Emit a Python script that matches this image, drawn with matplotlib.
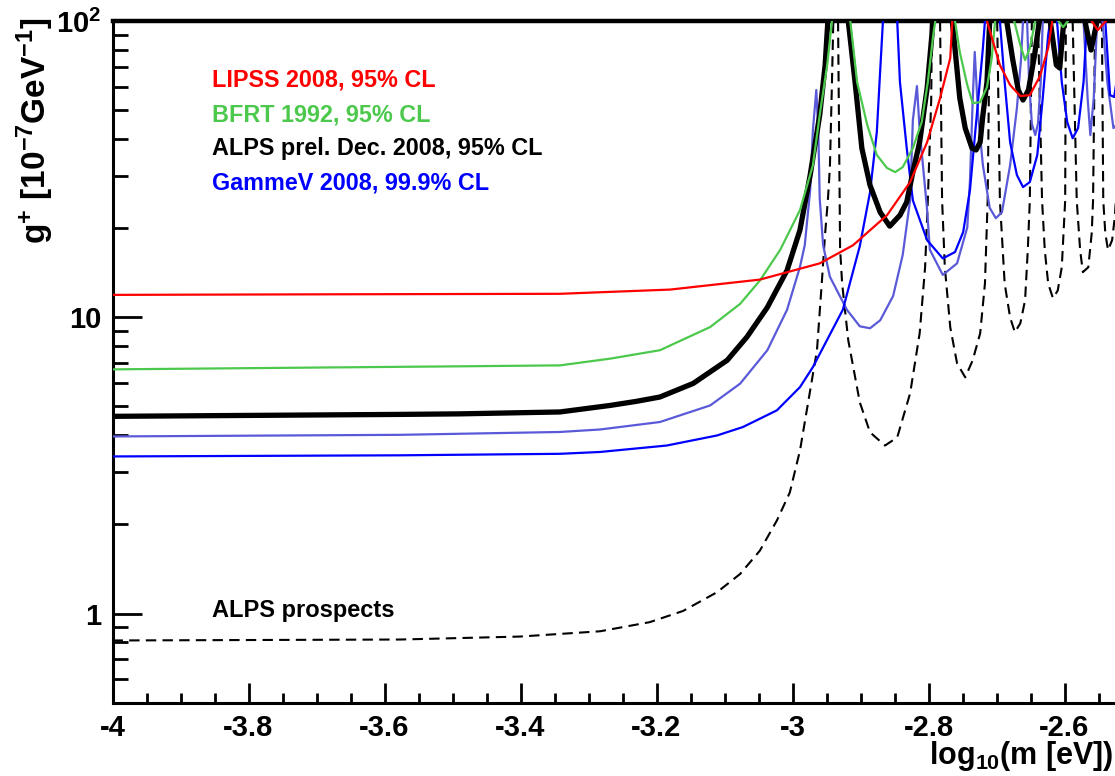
import numpy as np
import matplotlib
matplotlib.use("Agg")
import matplotlib.pyplot as plt
from matplotlib.ticker import FixedLocator, FixedFormatter, NullFormatter, MultipleLocator

plt.rcParams['font.family'] = ['Liberation Sans', 'DejaVu Sans']
plt.rcParams['mathtext.fontset'] = 'custom'
plt.rcParams['mathtext.rm'] = 'Liberation Sans:bold'
plt.rcParams['mathtext.bf'] = 'Liberation Sans:bold'
plt.rcParams['mathtext.it'] = 'Liberation Sans:bold'

nan = np.nan

# ---- exclusion limits: log10(m/eV) vs g [1e-7 GeV^-1]; nan separates lobes above the frame
lipss_logm = [-4.0, -3.7, -3.342, -3.180, -3.048, -2.960, -2.911, -2.861, -2.827, -2.802,
              -2.783, -2.768, -2.765, nan,
              -2.714, -2.695, -2.680, -2.665, -2.651, -2.636, -2.624, -2.618, nan,
              -2.560, -2.551, -2.539]
lipss_g = [11.9, 11.95, 12.0, 12.4, 13.4, 15.2, 17.5, 22.1, 28.6, 39.0,
           54.9, 75.0, 100, nan,
           100, 71.0, 60.8, 55.8, 56.2, 65.2, 81.0, 100, nan,
           100, 93.2, 100]

bfrt_logm = [-4.0, -3.651, -3.489, -3.342, -3.268, -3.195, -3.121, -3.077, -3.048, -3.018, -2.989,
             -2.970, -2.960, -2.949, -2.942, nan,
             -2.915, -2.905, -2.890, -2.876, -2.861, -2.849, -2.838, -2.823, -2.810, -2.801,
             -2.793, -2.790, nan,
             -2.761, -2.754, -2.743, -2.735, -2.724, -2.714, -2.707, -2.702, nan,
             -2.674, -2.665, -2.658, -2.651, -2.643, nan,
             -2.609, -2.602, -2.595]
bfrt_g = [6.67, 6.78, 6.83, 6.88, 7.25, 7.74, 9.27, 11.1, 13.3, 16.9, 23.0,
          32.6, 48.1, 71.0, 100, nan,
          100, 62.2, 44.5, 35.3, 31.9, 30.9, 32.1, 37.2, 45.6, 62.2,
          89.7, 100, nan,
          100, 78.6, 60.8, 52.8, 53.2, 59.8, 75.0, 100, nan,
          100, 83.0, 73.8, 81.0, 100, nan,
          100, 95.4, 100]

alps_logm = [-4.0, -3.577, -3.489, -3.342, -3.268, -3.230, -3.195, -3.146, -3.096, -3.067, -3.037,
             -3.008, -2.989, -2.974, -2.960, -2.952, -2.948, nan,
             -2.918, -2.908, -2.898, -2.886, -2.871, -2.857, -2.842, -2.832, -2.823, -2.813,
             -2.802, -2.795, -2.794, nan,
             -2.765, -2.754, -2.746, -2.736, -2.730, -2.724, -2.720, -2.714, -2.710, nan,
             -2.685, -2.676, -2.668, -2.661, -2.653, -2.644, -2.637, nan,
             -2.621, -2.612, -2.607, -2.601, nan,
             -2.570, -2.561, -2.552]
alps_g = [4.63, 4.70, 4.72, 4.79, 5.04, 5.20, 5.38, 5.98, 7.16, 8.58, 10.8,
          14.4, 19.7, 30.2, 48.1, 71.0, 100, nan,
          100, 62.2, 37.2, 27.9, 22.6, 20.3, 22.1, 24.5, 30.9, 39.0,
          59.4, 89.7, 100, nan,
          100, 54.9, 43.5, 37.2, 36.7, 39.0, 48.1, 62.2, 100, nan,
          100, 73.8, 58.5, 54.1, 58.5, 76.8, 100, nan,
          100, 71.0, 69.4, 100, nan,
          100, 79.8, 100]

gammev_logm = [-4.0, -3.577, -3.342, -3.283, -3.185, -3.111, -3.073, -3.023, -2.989, -2.970,
               -2.926, -2.901, -2.886, -2.876, -2.871, -2.867, nan,
               -2.846, -2.842, -2.832, -2.823, -2.802, -2.779, -2.761, -2.749, -2.739, -2.729,
               -2.720, -2.717, nan,
               -2.695, -2.688, -2.680, -2.670, -2.661, -2.651, -2.640, -2.632, -2.624, -2.621, nan,
               -2.611, -2.604, -2.596, -2.588, -2.580, -2.572, -2.567, nan,
               -2.540, -2.533, -2.527, -2.518, -2.511]
gammev_g = [3.39, 3.42, 3.46, 3.51, 3.69, 3.99, 4.26, 4.85, 5.81, 6.79,
            10.6, 17.4, 26.4, 42.2, 68.3, 100, nan,
            100, 62.2, 37.2, 24.8, 18.2, 15.8, 16.6, 19.4, 26.9, 48.1,
            81.0, 100, nan,
            100, 62.2, 39.0, 30.2, 27.5, 28.6, 35.3, 54.9, 89.7, 100, nan,
            100, 62.2, 45.6, 40.2, 43.5, 62.2, 100, nan,
            100, 56.2, 55.4, 75.0, 100]

gammev2_logm = [-4.0, -3.577, -3.342, -3.283, -3.195, -3.121, -3.077, -3.037, -3.008, -2.989,
                -2.982, -2.974, -2.970, -2.965, -2.962, -2.960, -2.955, -2.945, -2.920, -2.901,
                -2.886, -2.871, -2.852, -2.838, -2.827, -2.823, -2.817, -2.813, -2.802, -2.798,
                -2.779, -2.758, -2.743, -2.739, -2.735, -2.732, -2.727, -2.720, -2.710, -2.701,
                -2.692, -2.680, -2.670, -2.664, -2.661, nan,
                -2.655, -2.652, -2.648, -2.643, -2.639, -2.635, -2.632, nan,
                -2.572, -2.566, -2.562, -2.557, -2.552, nan,
                -2.544, -2.537, -2.528, -2.518, -2.509]
gammev2_g = [3.96, 4.01, 4.10, 4.18, 4.43, 5.04, 5.97, 7.74, 10.6, 14.8,
             17.5, 26.9, 42.8, 58.5, 42.2, 25.2, 17.5, 13.7, 10.6, 9.32,
             9.18, 9.77, 11.8, 16.2, 24.9, 46.3, 60.3, 42.8, 23.0, 16.9,
             13.9, 15.2, 20.1, 29.0, 54.1, 78.6, 48.1, 32.6, 23.4, 21.6,
             22.6, 32.6, 50.8, 73.8, 100, nan,
             100, 62.2, 45.0, 41.2, 45.0, 62.2, 100, nan,
             100, 54.9, 41.2, 54.9, 100, nan,
             100, 62.2, 43.5, 46.0, 68.0]

prosp_logm = [-4.0, -3.577, -3.401, -3.283, -3.210, -3.161, -3.111, -3.077, -3.048, -3.023,
              -3.004, -2.989, -2.979, -2.964, -2.957, -2.952, -2.948, -2.945, -2.942, -2.940, nan,
              -2.933, -2.930, -2.927, -2.918, -2.901, -2.886, -2.864, -2.846, -2.827, -2.813,
              -2.805, -2.801, -2.796, -2.795, nan,
              -2.783, -2.780, -2.776, -2.768, -2.758, -2.746, -2.735, -2.724, -2.717, -2.713,
              -2.710, nan,
              -2.699, -2.695, -2.688, -2.680, -2.673, -2.665, -2.658, -2.654, -2.651, -2.648, nan,
              -2.639, -2.633, -2.629, -2.624, -2.617, -2.610, -2.604, -2.599, -2.598, nan,
              -2.588, -2.582, -2.577, -2.573, -2.565, -2.560, -2.558, -2.555, nan,
              -2.545, -2.543, -2.540, -2.536, -2.530, -2.526, -2.520, -2.516]
prosp_g = [0.811, 0.817, 0.836, 0.871, 0.935, 1.02, 1.18, 1.36, 1.63, 2.06,
           2.56, 3.55, 4.85, 7.74, 13.0, 19.2, 24.8, 32.1, 61.7, 100, nan,
           100, 17.0, 13.0, 8.36, 5.16, 4.09, 3.69, 3.93, 5.54, 8.83,
           14.75, 24.8, 54.1, 100, nan,
           100, 24.8, 14.75, 9.25, 6.99, 6.27, 7.16, 8.83, 13.0, 24.8,
           100, nan,
           100, 24.8, 13.0, 9.99, 8.90, 9.54, 11.4, 16.85, 24.8, 100, nan,
           100, 24.8, 16.85, 13.0, 11.6, 12.3, 14.75, 24.8, 100, nan,
           100, 24.8, 16.85, 14.2, 14.75, 19.2, 24.8, 100, nan,
           100, 24.8, 19.2, 16.85, 18.2, 21.8, 36.6, 100]

labels = ["LIPSS 2008, 95% CL", "BFRT 1992, 95% CL",
          "ALPS prel. Dec. 2008, 95% CL", "GammeV 2008, 99.9% CL"]
label_colors = ["#ff0000", "#4cc94c", "#000000", "#0000ff"]

x_range = (-4.0, -2.5)
y_range = (0.5, 100.0)
x_major = [-4.0, -3.8, -3.6, -3.4, -3.2, -3.0, -2.8, -2.6]
x_major_labels = ["-4", "-3.8", "-3.6", "-3.4", "-3.2", "-3", "-2.8", "-2.6"]
y_major = [1, 10, 100]
y_major_labels = ["1", "10", r"$10^{2}$"]

W, H = 1115, 776
fig = plt.figure(figsize=(W / 100, H / 100), dpi=100)
ax_left, ax_right, ax_top, ax_bottom = 112.5, 1132.5, 21.0, 702.7
ax = fig.add_axes([ax_left / W, 1 - ax_bottom / H,
                   (ax_right - ax_left) / W, (ax_bottom - ax_top) / H])

ax.plot(prosp_logm, prosp_g, color="black", lw=1.5, ls=(0, (5, 3)), zorder=2)
ax.plot(gammev2_logm, gammev2_g, color="#5a5ad8", lw=1.6, zorder=3)
ax.plot(gammev_logm, gammev_g, color="#0000ff", lw=1.6, zorder=3)
ax.plot(alps_logm, alps_g, color="black", lw=3.8, zorder=4)
ax.plot(bfrt_logm, bfrt_g, color="#4cc94c", lw=1.6, zorder=5)
ax.plot(lipss_logm, lipss_g, color="#ff0000", lw=1.6, zorder=6)

ax.set_yscale("log")
ax.set_xlim(*x_range)
ax.set_ylim(*y_range)

ax.xaxis.set_major_locator(FixedLocator(x_major))
ax.xaxis.set_major_formatter(FixedFormatter(x_major_labels))
ax.xaxis.set_minor_locator(MultipleLocator(0.05))
ax.yaxis.set_major_locator(FixedLocator(y_major))
ax.yaxis.set_major_formatter(FixedFormatter(y_major_labels))
y_minor = [v * d for d in (0.1, 1, 10) for v in range(2, 10) if 0.5 <= v * d < 100]
ax.yaxis.set_minor_locator(FixedLocator(y_minor))
ax.yaxis.set_minor_formatter(NullFormatter())

for s in ("left", "bottom"):
    ax.spines[s].set_linewidth(2.2)
ax.spines["top"].set_linewidth(3.2)
ax.spines["right"].set_visible(False)

ax.tick_params(axis="x", which="major", direction="in", length=14.5, width=2.0,
               labelsize=21, pad=8, top=False)
ax.tick_params(axis="x", which="minor", direction="in", length=7, width=2.0, top=False)
ax.tick_params(axis="y", which="major", direction="in", length=21, width=2.0,
               labelsize=21, pad=8, right=False)
ax.tick_params(axis="y", which="minor", direction="in", length=10.5, width=2.0, right=False)
for lab in ax.get_xticklabels() + ax.get_yticklabels():
    lab.set_fontweight("bold")

# axis titles
fig.text(1114 / W, 1 - 764 / H, r"log$_{\mathbf{10}}$(m [eV])", ha="right",
         va="baseline", fontsize=22, fontweight="bold")
fig.text(35 / W, 1 - 18 / H, r"g$^{+}$ [10$^{-7}$GeV$^{-1}$]", rotation=90,
         ha="center", va="top", fontsize=24, fontweight="bold")

# legend-style annotations
label_y = [80, 115, 149, 183]
for txt, col, yy in zip(labels, label_colors, label_y):
    fig.text(212 / W, 1 - yy / H, txt, color=col, ha="left", va="center",
             fontsize=16.8, fontweight="bold")
fig.text(212 / W, 1 - 611 / H, "ALPS prospects", color="black", ha="left",
         va="center", fontsize=17, fontweight="bold")

fig.savefig("out.png", dpi=100)
